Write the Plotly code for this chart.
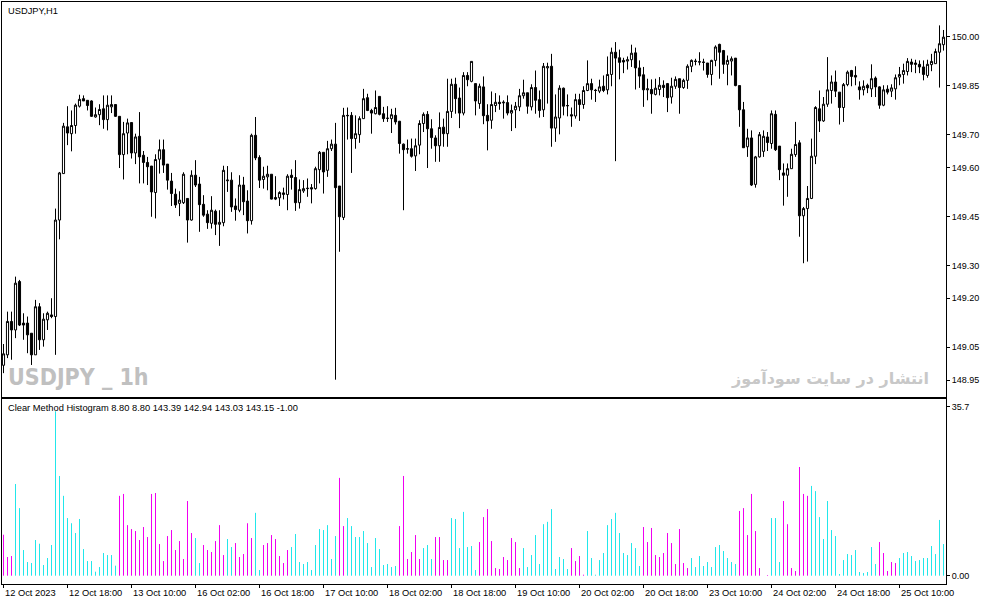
import plotly.graph_objects as go

# USDJPY H1 candles, 12 Oct 2023 02:00 .. 25 Oct 2023 21:00 (one row = 10 bars)
opens = [
    148.995, 149.027, 149.129, 149.103, 149.251, 149.124, 149.124, 149.093, 149.027, 149.174,
    149.073, 149.134, 149.149, 149.144, 149.439, 149.581, 149.724, 149.703, 149.728, 149.787,
    149.810, 149.805, 149.803, 149.754, 149.761, 149.779, 149.746, 149.785, 149.792, 149.756,
    149.639, 149.705, 149.737, 149.644, 149.695, 149.637, 149.615, 149.604, 149.523, 149.625,
    149.654, 149.610, 149.558, 149.518, 149.490, 149.492, 149.505, 149.439, 149.576, 149.549,
    149.487, 149.457, 149.429, 149.466, 149.426, 149.431, 149.559, 149.561, 149.482, 149.469,
    149.546, 149.497, 149.437, 149.698, 149.630, 149.563, 149.571, 149.579, 149.508, 149.507,
    149.517, 149.517, 149.576, 149.569, 149.492, 149.528, 149.535, 149.538, 149.535, 149.593,
    149.646, 149.591, 149.657, 149.671, 149.543, 149.447, 149.759, 149.759, 149.688, 149.700,
    149.749, 149.813, 149.774, 149.764, 149.817, 149.764, 149.750, 149.749, 149.759, 149.741,
    149.671, 149.657, 149.657, 149.635, 149.668, 149.734, 149.762, 149.718, 149.690, 149.666,
    149.723, 149.703, 149.771, 149.854, 149.812, 149.766, 149.881, 149.863, 149.856, 149.795,
    149.846, 149.759, 149.744, 149.789, 149.799, 149.797, 149.798, 149.766, 149.776, 149.785,
    149.819, 149.828, 149.785, 149.844, 149.807, 149.776, 149.904, 149.909, 149.720, 149.751,
    149.842, 149.788, 149.761, 149.757, 149.807, 149.792, 149.835, 149.856, 149.836, 149.833,
    149.848, 149.837, 149.884, 149.952, 149.935, 149.927, 149.925, 149.929, 149.950, 149.904,
    149.883, 149.837, 149.838, 149.823, 149.838, 149.851, 149.856, 149.815, 149.848, 149.871,
    149.844, 149.866, 149.909, 149.925, 149.923, 149.922, 149.919, 149.884, 149.927, 149.976,
    149.957, 149.915, 149.925, 149.934, 149.850, 149.776, 149.663, 149.690, 149.548, 149.632,
    149.649, 149.693, 149.673, 149.762, 149.665, 149.583, 149.576, 149.596, 149.639, 149.675,
    149.452, 149.474, 149.505, 149.634, 149.779, 149.742, 149.793, 149.835, 149.861, 149.830,
    149.783, 149.853, 149.896, 149.881, 149.846, 149.837, 149.851, 149.840, 149.873, 149.846,
    149.790, 149.839, 149.833, 149.840, 149.876, 149.884, 149.893, 149.922, 149.919, 149.915,
    149.907, 149.881, 149.914, 149.917, 149.952, 149.975,
]
highs = [
    149.060, 149.159, 149.159, 149.266, 149.256, 149.154, 149.144, 149.093, 149.195, 149.185,
    149.154, 149.159, 149.200, 149.474, 149.586, 149.736, 149.787, 149.774, 149.795, 149.822,
    149.820, 149.805, 149.805, 149.783, 149.793, 149.820, 149.820, 149.820, 149.792, 149.756,
    149.739, 149.749, 149.737, 149.703, 149.769, 149.650, 149.632, 149.604, 149.640, 149.685,
    149.685, 149.610, 149.583, 149.535, 149.527, 149.585, 149.505, 149.591, 149.622, 149.571,
    149.515, 149.469, 149.512, 149.471, 149.469, 149.605, 149.604, 149.585, 149.505, 149.576,
    149.571, 149.530, 149.703, 149.754, 149.637, 149.602, 149.605, 149.579, 149.573, 149.527,
    149.538, 149.579, 149.594, 149.622, 149.563, 149.561, 149.566, 149.549, 149.602, 149.650,
    149.646, 149.681, 149.685, 149.736, 149.543, 149.782, 149.783, 149.769, 149.759, 149.756,
    149.840, 149.825, 149.779, 149.835, 149.817, 149.785, 149.787, 149.779, 149.782, 149.742,
    149.673, 149.685, 149.688, 149.688, 149.744, 149.768, 149.772, 149.747, 149.698, 149.768,
    149.749, 149.871, 149.871, 149.874, 149.844, 149.891, 149.891, 149.924, 149.856, 149.856,
    149.878, 149.793, 149.832, 149.827, 149.820, 149.805, 149.820, 149.792, 149.800, 149.840,
    149.868, 149.828, 149.854, 149.896, 149.835, 149.919, 149.920, 149.947, 149.823, 149.851,
    149.844, 149.823, 149.783, 149.825, 149.825, 149.848, 149.927, 149.871, 149.840, 149.868,
    149.881, 149.939, 149.966, 149.983, 149.960, 149.935, 149.939, 149.975, 149.966, 149.927,
    149.907, 149.871, 149.869, 149.871, 149.876, 149.866, 149.858, 149.874, 149.878, 149.871,
    149.871, 149.915, 149.930, 149.932, 149.952, 149.932, 149.919, 149.929, 149.973, 149.978,
    149.959, 149.942, 149.939, 149.934, 149.850, 149.800, 149.718, 149.713, 149.635, 149.708,
    149.713, 149.708, 149.774, 149.774, 149.665, 149.612, 149.612, 149.657, 149.739, 149.683,
    149.479, 149.543, 149.688, 149.787, 149.835, 149.815, 149.937, 149.881, 149.896, 149.830,
    149.858, 149.896, 149.898, 149.909, 149.863, 149.866, 149.856, 149.915, 149.878, 149.848,
    149.851, 149.851, 149.854, 149.884, 149.907, 149.917, 149.934, 149.932, 149.929, 149.927,
    149.927, 149.929, 149.947, 149.963, 150.034, 150.020,
]
lows = [
    148.971, 149.017, 149.012, 149.078, 149.115, 149.073, 149.032, 148.996, 149.027, 149.042,
    149.052, 149.103, 149.139, 149.027, 149.380, 149.581, 149.668, 149.649, 149.703, 149.783,
    149.803, 149.774, 149.754, 149.752, 149.729, 149.718, 149.713, 149.766, 149.754, 149.598,
    149.563, 149.640, 149.627, 149.610, 149.551, 149.551, 149.546, 149.449, 149.444, 149.581,
    149.583, 149.532, 149.482, 149.476, 149.451, 149.488, 149.370, 149.437, 149.540, 149.403,
    149.449, 149.412, 149.413, 149.393, 149.360, 149.420, 149.525, 149.464, 149.437, 149.463,
    149.454, 149.398, 149.425, 149.622, 149.537, 149.535, 149.530, 149.502, 149.500, 149.482,
    149.502, 149.469, 149.532, 149.467, 149.474, 149.522, 149.510, 149.490, 149.532, 149.551,
    149.520, 149.571, 149.650, 148.951, 149.342, 149.439, 149.685, 149.583, 149.657, 149.675,
    149.749, 149.772, 149.703, 149.762, 149.759, 149.739, 149.739, 149.705, 149.731, 149.642,
    149.469, 149.642, 149.630, 149.589, 149.640, 149.708, 149.598, 149.657, 149.617, 149.617,
    149.663, 149.663, 149.751, 149.764, 149.720, 149.759, 149.848, 149.860, 149.759, 149.779,
    149.732, 149.652, 149.718, 149.769, 149.776, 149.749, 149.759, 149.711, 149.720, 149.772,
    149.810, 149.764, 149.774, 149.764, 149.752, 149.754, 149.795, 149.663, 149.678, 149.701,
    149.759, 149.756, 149.724, 149.749, 149.742, 149.779, 149.833, 149.807, 149.800, 149.827,
    149.830, 149.823, 149.848, 149.619, 149.869, 149.888, 149.899, 149.907, 149.838, 149.843,
    149.785, 149.805, 149.764, 149.820, 149.820, 149.815, 149.769, 149.795, 149.840, 149.764,
    149.840, 149.840, 149.891, 149.912, 149.912, 149.896, 149.874, 149.851, 149.909, 149.871,
    149.886, 149.851, 149.881, 149.848, 149.724, 149.660, 149.632, 149.543, 149.538, 149.630,
    149.632, 149.650, 149.657, 149.650, 149.561, 149.483, 149.510, 149.596, 149.632, 149.388,
    149.307, 149.312, 149.503, 149.610, 149.708, 149.739, 149.785, 149.795, 149.815, 149.731,
    149.739, 149.848, 149.848, 149.851, 149.807, 149.820, 149.827, 149.815, 149.815, 149.779,
    149.787, 149.823, 149.815, 149.807, 149.851, 149.856, 149.881, 149.891, 149.888, 149.888,
    149.866, 149.874, 149.894, 149.917, 149.844, 149.957,
]
closes = [
    149.030, 149.129, 149.103, 149.246, 149.118, 149.118, 149.088, 149.027, 149.174, 149.073,
    149.136, 149.154, 149.144, 149.439, 149.583, 149.726, 149.705, 149.728, 149.790, 149.808,
    149.803, 149.789, 149.756, 149.761, 149.777, 149.746, 149.790, 149.792, 149.756, 149.639,
    149.703, 149.736, 149.644, 149.693, 149.632, 149.615, 149.602, 149.525, 149.624, 149.654,
    149.607, 149.561, 149.520, 149.485, 149.500, 149.579, 149.439, 149.576, 149.546, 149.486,
    149.454, 149.431, 149.469, 149.426, 149.432, 149.591, 149.561, 149.479, 149.471, 149.546,
    149.495, 149.437, 149.698, 149.629, 149.561, 149.573, 149.579, 149.503, 149.503, 149.523,
    149.522, 149.573, 149.569, 149.492, 149.532, 149.535, 149.536, 149.534, 149.596, 149.646,
    149.586, 149.657, 149.671, 149.538, 149.449, 149.759, 149.758, 149.688, 149.703, 149.749,
    149.810, 149.774, 149.766, 149.783, 149.762, 149.749, 149.750, 149.761, 149.739, 149.673,
    149.654, 149.656, 149.634, 149.666, 149.734, 149.762, 149.718, 149.691, 149.666, 149.722,
    149.703, 149.771, 149.854, 149.810, 149.766, 149.881, 149.868, 149.924, 149.803, 149.848,
    149.758, 149.742, 149.792, 149.799, 149.795, 149.799, 149.766, 149.774, 149.787, 149.819,
    149.828, 149.787, 149.844, 149.805, 149.774, 149.909, 149.908, 149.720, 149.754, 149.842,
    149.787, 149.789, 149.757, 149.807, 149.792, 149.835, 149.856, 149.837, 149.835, 149.846,
    149.835, 149.884, 149.952, 149.934, 149.921, 149.922, 149.929, 149.949, 149.904, 149.879,
    149.837, 149.840, 149.825, 149.842, 149.851, 149.844, 149.813, 149.848, 149.869, 149.844,
    149.866, 149.909, 149.927, 149.924, 149.922, 149.921, 149.884, 149.927, 149.968, 149.952,
    149.915, 149.927, 149.932, 149.850, 149.776, 149.660, 149.690, 149.546, 149.632, 149.700,
    149.695, 149.676, 149.764, 149.654, 149.593, 149.576, 149.596, 149.640, 149.670, 149.452,
    149.474, 149.505, 149.634, 149.783, 149.742, 149.793, 149.837, 149.861, 149.833, 149.783,
    149.853, 149.891, 149.878, 149.876, 149.837, 149.848, 149.843, 149.871, 149.846, 149.790,
    149.837, 149.830, 149.843, 149.874, 149.884, 149.896, 149.924, 149.915, 149.915, 149.907,
    149.884, 149.915, 149.924, 149.954, 149.978, 149.998,
]

# Clear Method Histogram values and side (c = up / aqua, m = down / magenta)
hist_values = [
    8.67, 3.95, 4.16, 19.4, 14.3, 5.43, 2.89, 2.68, 7.55, 6.77,
    2.26, 3.74, 6.49, 34.8, 21.1, 16.9, 12.2, 11.1, 9.03, 12.0,
    5.64, 3.10, 3.10, 0.85, 1.83, 4.80, 4.37, 4.37, 2.12, 16.9,
    17.3, 10.7, 9.87, 9.45, 7.55, 10.3, 8.18, 17.3, 17.5, 6.70,
    3.10, 8.39, 9.66, 5.43, 7.33, 3.53, 15.8, 9.03, 7.97, 2.68,
    6.49, 5.43, 5.01, 7.33, 10.7, 4.37, 7.76, 6.06, 6.91, 3.95,
    4.58, 11.1, 7.97, 13.3, 1.20, 6.49, 6.91, 8.60, 7.76, 4.16,
    2.68, 5.43, 6.06, 8.82, 2.89, 2.47, 2.89, 1.20, 6.49, 9.87,
    9.66, 10.7, 3.53, 8.39, 20.7, 10.5, 12.2, 10.5, 8.18, 8.18,
    9.45, 6.91, 1.83, 7.97, 5.64, 2.26, 2.47, 1.83, 2.05, 10.5,
    21.1, 3.53, 5.01, 8.60, 3.53, 5.85, 6.49, 3.53, 8.18, 8.18,
    3.31, 3.31, 12.2, 12.0, 5.85, 13.5, 6.06, 6.28, 1.20, 7.12,
    12.4, 14.1, 7.33, 1.62, 1.41, 3.95, 3.31, 7.97, 7.12, 1.62,
    5.85, 1.83, 4.37, 8.60, 2.47, 10.9, 11.4, 14.1, 1.41, 3.95,
    3.53, 1.41, 5.85, 3.10, 4.16, 0.21, 9.45, 3.74, 0.21, 3.31,
    4.80, 10.7, 12.0, 13.3, 9.03, 4.80, 4.37, 6.91, 5.85, 2.05,
    10.3, 7.12, 10.1, 4.37, 3.95, 4.80, 9.03, 6.91, 2.47, 9.87,
    2.68, 1.62, 3.74, 1.83, 4.16, 2.05, 2.89, 1.83, 6.06, 6.49,
    5.22, 3.74, 2.89, 2.47, 13.7, 14.3, 8.60, 17.3, 9.45, 1.62,
    0.00, 0.14, 12.2, 12.2, 2.89, 15.8, 10.9, 1.62, 0.99, 23.0,
    17.3, 16.9, 19.0, 17.9, 12.4, 7.76, 15.8, 9.66, 8.39, 0.35,
    3.31, 4.58, 4.37, 5.43, 0.78, 0.56, 0.78, 6.06, 2.47, 7.12,
    4.80, 0.99, 2.89, 2.68, 3.74, 4.80, 5.01, 4.16, 3.10, 3.31,
    3.74, 3.74, 6.28, 4.58, 11.8, 6.70,
]
hist_side = (
    "mmmccccccc" "cccccccccc" "cccccccccm" "mmmmmmmmmm" "mmmmmmmmcc"
    "mmmmmmccmm" "mmmccmmmmm" "mmcccccccc" "ccccmmcccc" "cccccccccm"
    "mmmmmcccmm" "mmcccccccm" "mmmmmmmmmm" "cccccccccc" "ccmmmmcccc"
    "cccccccccc" "mmmmmmmmmm" "mmcccccccc" "ccccmmmmmm" "mmcccmmmmm"
    "mmcccccccc" "cccccccccm" "mmmmcccccc" "cccccc"
)

# axis labels
price_ticks = [150.00, 149.85, 149.70, 149.60, 149.45, 149.30, 149.20, 149.05, 148.95]
hist_ticks = [0.0, 35.7]
hist_tick_text = ["0.00", "35.7"]
time_labels = ["12 Oct 2023", "12 Oct 18:00", "13 Oct 10:00", "16 Oct 02:00", "16 Oct 18:00",
               "17 Oct 10:00", "18 Oct 02:00", "18 Oct 18:00", "19 Oct 10:00", "20 Oct 02:00",
               "20 Oct 18:00", "23 Oct 10:00", "24 Oct 02:00", "24 Oct 18:00", "25 Oct 10:00"]
label_step = 16  # one label every 16 bars

bars = list(range(len(opens)))
label_pos = [i * label_step for i in range(len(time_labels))]
side_color = {"c": "#22E6EA", "m": "#F000F0"}

FONT = "Liberation Sans, Arial, sans-serif"
W, H = 987, 605
L, R, T, B = 2, 41, 2, 21
plot_h = H - T - B


def px_x(px):
    return (px - L) / (W - L - R)


def px_y(py):
    return (H - B - py) / plot_h


fig = go.Figure()

fig.add_trace(go.Candlestick(
    x=bars, open=opens, high=highs, low=lows, close=closes,
    xaxis="x", yaxis="y",
    increasing=dict(fillcolor="white", line=dict(color="black", width=1)),
    decreasing=dict(fillcolor="black", line=dict(color="black", width=1)),
    whiskerwidth=0, showlegend=False, hoverinfo="skip",
))

# histogram drawn as 1px vertical sticks (like MT4 DRAW_HISTOGRAM)
for side, color in side_color.items():
    xs, ys = [], []
    for i, (v, s) in enumerate(zip(hist_values, hist_side)):
        if s == side:
            xs += [i, i, None]
            ys += [0, v, None]
    fig.add_trace(go.Scatter(x=xs, y=ys, mode="lines", line=dict(color=color, width=1),
                             xaxis="x2", yaxis="y2", showlegend=False, hoverinfo="skip"))

# 4 px per bar; offset so each bar centre falls on a pixel centre
x_range = [-0.375, len(opens) - 0.375]
axis_common = dict(showline=True, mirror=True, linecolor="black", linewidth=1,
                   showgrid=False, zeroline=False)

fig.update_layout(
    width=W, height=H,
    margin=dict(l=L, r=R, t=T, b=B),
    plot_bgcolor="white", paper_bgcolor="white",
    font=dict(family=FONT, size=9, color="black"),
    boxgap=0.25,
    xaxis=dict(domain=[0, 1], anchor="y", range=x_range, showticklabels=False,
               ticks="", rangeslider=dict(visible=False), **axis_common),
    xaxis2=dict(domain=[0, 1], anchor="y2", range=x_range, matches="x",
                tickvals=label_pos, showticklabels=False, ticks="outside",
                ticklen=3, tickcolor="black", **axis_common),
    yaxis=dict(domain=[px_y(396.7), 1], side="right", range=[148.899, 150.1055],
               tickvals=price_ticks, ticktext=[f"{p:.2f}" for p in price_ticks],
               ticks="outside", ticklen=3, tickcolor="black",
               tickfont=dict(size=9), **axis_common),
    yaxis2=dict(domain=[0, px_y(399)], side="right", range=[-1.756, 37.39],
                tickvals=hist_ticks, ticktext=hist_tick_text,
                ticks="outside", ticklen=3, tickcolor="black",
                tickfont=dict(size=9), **axis_common),
)

annotations = [
    dict(text="USDJPY,H1", x=px_x(6), y=px_y(11), xref="paper", yref="paper",
         xanchor="left", yanchor="middle", showarrow=False, font=dict(size=9.3)),
    dict(text="Clear Method Histogram 8.80 8.80 143.39 142.94 143.03 143.15 -1.00",
         x=px_x(6), y=px_y(408), xref="paper", yref="paper",
         xanchor="left", yanchor="middle", showarrow=False, font=dict(size=9.3)),
    dict(text="<b>USDJPY _ 1h</b>", x=px_x(6), y=px_y(377), xref="paper", yref="paper",
         xanchor="left", yanchor="middle", showarrow=False,
         font=dict(family="Liberation Sans Narrow, DejaVu Sans Condensed, Arial Narrow, sans-serif",
                   size=23, color="#C0C0C0")),
    dict(text="<b>انتشار در سایت سودآموز</b>", x=px_x(931), y=px_y(378), xref="paper", yref="paper",
         xanchor="right", yanchor="middle", showarrow=False,
         font=dict(family="DejaVu Sans, Noto Sans, sans-serif", size=16, color="#C8C8C8")),
]
for pos, lab in zip(label_pos, time_labels):
    annotations.append(dict(text=lab, x=pos, y=px_y(593), xref="x2", yref="paper",
                            xanchor="left", yanchor="middle", xshift=-1, showarrow=False,
                            font=dict(size=9.3)))
fig.update_layout(annotations=annotations)

fig.write_html("out.html", config={"displayModeBar": False},
               post_script="document.body.style.margin='0';")
